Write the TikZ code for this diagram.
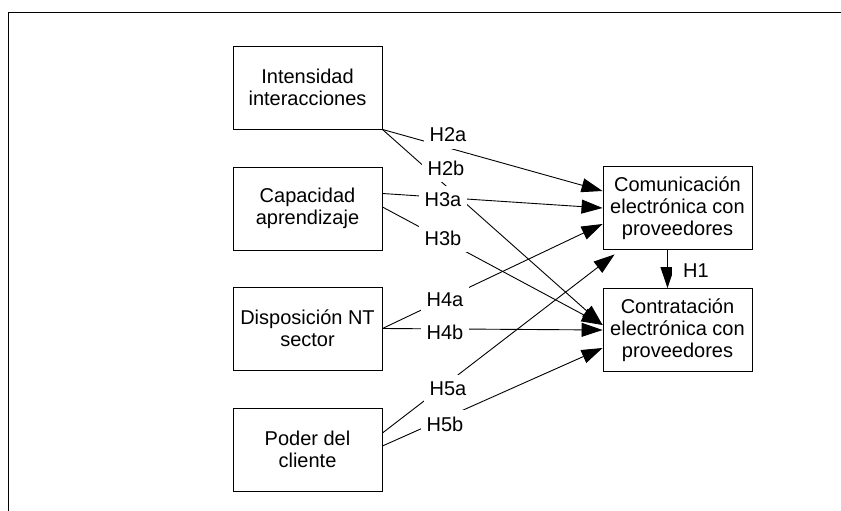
\documentclass[tikz,border=0pt]{standalone}
\usepackage{fontspec}
\setmainfont{Liberation Sans}
\usetikzlibrary{arrows.meta}

\tikzset{
  factor/.style={draw, line width=0.9pt, minimum width=149pt, minimum height=83pt,
    inner sep=2pt, align=center, font=\fontsize{20}{22}\selectfont},
  conn/.style={line width=0.9pt, -{Triangle[length=21pt,width=14pt]}},
  hyp/.style={fill=white, minimum width=48pt, minimum height=28pt, inner sep=0pt,
    font=\fontsize{20}{22}\selectfont}
}

\begin{document}
\begin{tikzpicture}[x=1pt,y=1pt]
  \useasboundingbox (0,0) rectangle (841,511);
  \draw[line width=1.3pt] (8.7,0) -- (8.7,498.3) -- (841,498.3);

  % antecedentes
  \node[factor] (int) at (307.5,423.5) {Intensidad\\interacciones};
  \node[factor] (cap) at (307.5,302.5) {Capacidad\\aprendizaje};
  \node[factor] (dis) at (307.5,182.5) {Disposición NT\\sector};
  \node[factor] (pod) at (307.5,61.5) {Poder del\\cliente};
  % resultados
  \node[factor] (com) at (677.5,303) {Comunicación\\electrónica con\\proveedores};
  \node[factor] (con) at (677.5,181) {Contratación\\electrónica con\\proveedores};

  \draw[conn] (int.south east) -- ([yshift=17pt]com.west);
  \draw[conn] (int.south east) -- ([yshift=5pt]con.west);
  \draw[conn] ([yshift=15pt]cap.east) -- (com.west);
  \draw[conn] ([yshift=1.5pt]cap.east) -- ([yshift=5pt]con.west);
  \draw[conn] (dis.east) -- ([yshift=-16pt]com.west);
  \draw[conn] (dis.east) -- (con.west);
  \draw[conn] ([yshift=16.5pt]pod.east) -- ([xshift=12pt,yshift=-4.5pt]com.south west);
  \draw[conn] ([yshift=3.5pt]pod.east) -- ([yshift=-18pt]con.west);
  \draw[conn] ([xshift=-10pt]com.south) -- ([xshift=-10pt]con.north);

  % etiquetas de hipotesis
  \foreach \nm/\x/\y/\txt in {h2a/448/376/H2a, h2b/446/343/H2b, h3a/443/311/H3a,
      h3b/443/273/H3b, h4a/445/211/H4a, h4b/445/179/H4b, h5a/448/122/H5a,
      h5b/445/87/H5b, h1/696/240/H1}
    \node[hyp] (\nm) at (\x,\y) {\txt};
\end{tikzpicture}
\end{document}
